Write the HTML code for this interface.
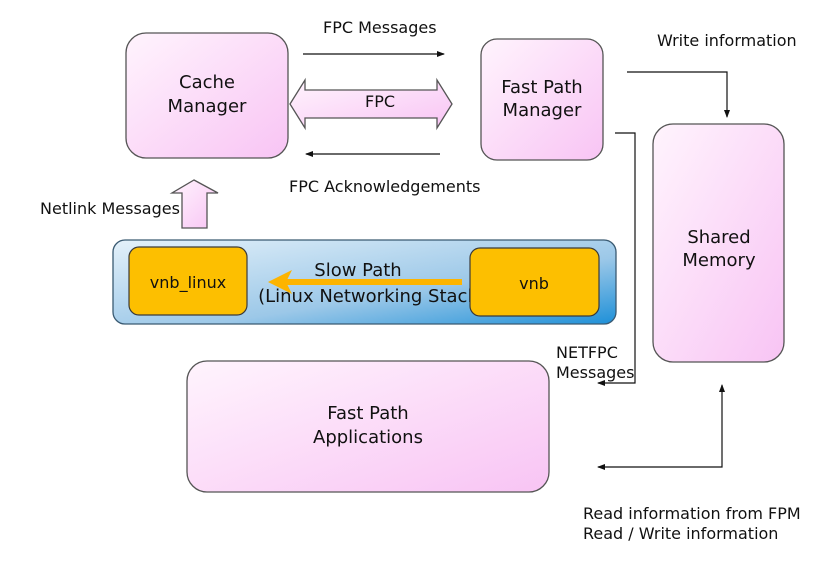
<!DOCTYPE html>
<html><head><meta charset="utf-8"><style>
html,body{margin:0;padding:0;background:#fff;}
svg{display:block;font-family:"DejaVu Sans","Liberation Sans",sans-serif;}
</style></head><body>
<svg width="820" height="565" viewBox="0 0 820 565" xmlns="http://www.w3.org/2000/svg">
<defs>
<linearGradient id="pk" x1="0" y1="0" x2="1" y2="1">
<stop offset="0" stop-color="#fff4fd"/><stop offset="1" stop-color="#f8c4f4"/></linearGradient>
<linearGradient id="bl" x1="0" y1="0" x2="1" y2="1">
<stop offset="0" stop-color="#e4f1fa"/><stop offset="0.6" stop-color="#9cc8e8"/><stop offset="1" stop-color="#1e90d8"/></linearGradient>
<marker id="ah" markerWidth="8" markerHeight="8" refX="7" refY="4" orient="auto" markerUnits="userSpaceOnUse">
<path d="M0,1 L8,4 L0,7 z" fill="#111"/></marker>
</defs>
<g stroke="#555" stroke-width="1.3">
<rect x="126" y="33" width="162" height="125" rx="20" fill="url(#pk)"/>
<rect x="481" y="39" width="122" height="121" rx="16" fill="url(#pk)"/>
<rect x="653" y="124" width="131" height="238" rx="20" fill="url(#pk)"/>
<rect x="187" y="361" width="362" height="131" rx="20" fill="url(#pk)"/>
<rect x="113" y="240" width="503" height="84" rx="12" fill="url(#bl)" stroke="#3a5a72"/>
<path d="M290,104 L305,80 L305,90 L437,90 L437,80 L452,104 L437,128 L437,118 L305,118 L305,128 z" fill="url(#pk)"/>
<path d="M194,180 L218,193 L207,193 L207,228 L182,228 L182,193 L172,193 z" fill="url(#pk)"/>
</g>
<g font-size="18" fill="#111" text-anchor="middle">
<text x="207" y="88">Cache</text><text x="207" y="112">Manager</text>
<text x="542" y="93">Fast Path</text><text x="542" y="116">Manager</text>
<text x="719" y="243">Shared</text><text x="719" y="266">Memory</text>
<text x="368" y="419">Fast Path</text><text x="368" y="443">Applications</text>
<text x="358" y="276">Slow Path</text><text x="368" y="302">(Linux Networking Stack</text>
</g>
<line x1="462" y1="282" x2="280" y2="282" stroke="#fdb400" stroke-width="6"/>
<path d="M268,282 L292,270 L286,282 L292,294 z" fill="#fdb400"/>
<g stroke="#3a3a3a" stroke-width="1.2" fill="#fdbf00">
<rect x="129" y="247" width="118" height="68" rx="10"/>
<rect x="470" y="248" width="129" height="68" rx="10"/>
</g>
<g font-size="16" fill="#111">
<text x="188" y="288" text-anchor="middle">vnb_linux</text>
<text x="534" y="289" text-anchor="middle">vnb</text>
<text x="380" y="107" text-anchor="middle">FPC</text>
<text x="323" y="33">FPC Messages</text>
<text x="657" y="46">Write information</text>
<text x="289" y="192">FPC Acknowledgements</text>
<text x="40" y="214">Netlink Messages</text>
<text x="556" y="358">NETFPC</text>
<text x="556" y="378">Messages</text>
<text x="583" y="519">Read information from FPM</text>
<text x="583" y="539">Read / Write information</text>
</g>
<g stroke="#111" stroke-width="1.2" fill="none">
<line x1="303" y1="54" x2="444" y2="54" marker-end="url(#ah)"/>
<line x1="440" y1="154" x2="306" y2="154" marker-end="url(#ah)"/>
<polyline points="627,72 727,72 727,117" marker-end="url(#ah)"/>
<polyline points="615,133 635,133 635,383 598,383" marker-end="url(#ah)"/>
<polyline points="598,467 722,467 722,385" marker-end="url(#ah)"/>
</g>
<path d="M597,467 L605,464 L605,470 z" fill="#111"/>
</svg>
</body></html>
